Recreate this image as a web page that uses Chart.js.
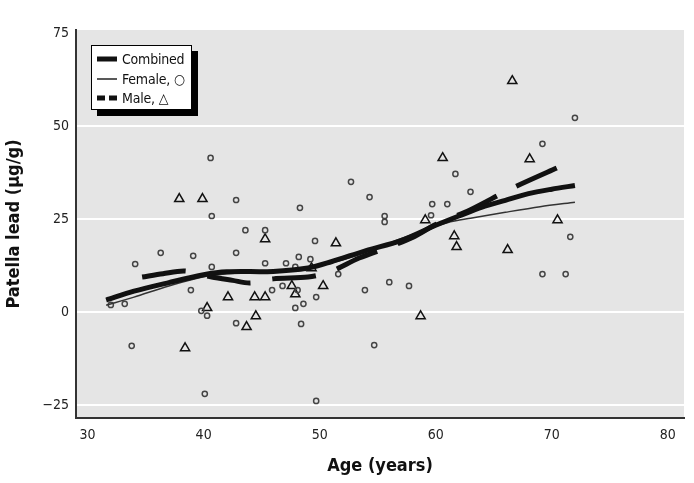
<!DOCTYPE html>
<html>
<head>
<meta charset="utf-8">
<script src="https://cdn.jsdelivr.net/npm/chart.js@4.4.1/dist/chart.umd.min.js"></script>
<style>
 body { margin: 0; background: #fff; }
 #wrap { position: relative; width: 694px; height: 483px; }
 #legend {
  position: absolute; left: 91px; top: 45px; width: 99px; height: 63px;
  background: #fff; border: 1px solid #000; box-shadow: 6px 6px 0 #000;
  font: 14px "DejaVu Sans Condensed", "Liberation Sans Narrow", sans-serif; color: #111;
  letter-spacing: -0.2px;
 }
 #legend .row { position: absolute; left: 5px; height: 20px; display: flex; align-items: center; white-space: nowrap; }
 #legend svg { width: 20px; height: 10px; margin-right: 5px; }
</style>
</head>
<body>
<div id="wrap">
 <canvas id="chart" width="694" height="483"></canvas>
 <div id="legend">
  <div class="row" style="top:3px"><svg><line x1="0" y1="5" x2="20" y2="5" stroke="#111" stroke-width="5"/></svg>Combined</div>
  <div class="row" style="top:23px"><svg><line x1="0" y1="5" x2="20" y2="5" stroke="#222" stroke-width="1.5"/></svg>Female, ○</div>
  <div class="row" style="top:42px"><svg><line x1="0" y1="5" x2="20" y2="5" stroke="#111" stroke-width="5" stroke-dasharray="8,4"/></svg>Male, △</div>
 </div>
</div>
<script>
// measured points (age in years, patella lead in ug/g)
const femaleAge = [32.0, 33.2, 34.1, 33.8, 36.3, 38.9, 39.1, 39.8, 40.3, 40.1, 40.6, 40.7, 40.7, 42.8, 42.8, 42.8,
 43.6, 45.3, 45.3, 45.9, 46.8, 47.1, 47.9, 47.9, 48.1, 48.2, 48.3, 48.4, 48.6, 49.2, 49.6, 49.7, 49.7,
 51.6, 52.7, 53.9, 54.3, 54.7, 55.6, 55.6, 56.0, 57.7, 59.6, 59.7, 61.0, 61.7, 63.0, 69.2, 69.2, 71.2, 71.6, 72.0];
const femaleLead = [1.9, 2.2, 12.9, -9.1, 15.9, 5.9, 15.1, 0.3, -1.0, -22.0, 41.4, 25.8, 12.1, 30.1, 15.9, -3.0,
 22.0, 22.0, 13.1, 5.9, 7.0, 13.1, 12.1, 1.1, 5.9, 14.8, 28.0, -3.2, 2.2, 14.2, 19.1, 4.0, -23.9,
 10.2, 35.0, 5.9, 30.9, -8.9, 25.8, 24.2, 8.0, 7.0, 26.0, 29.0, 29.0, 37.1, 32.3, 45.2, 10.2, 10.2, 20.2, 52.2];

const maleAge = [37.9, 38.4, 39.9, 40.3, 42.1, 43.7, 44.4, 44.5, 45.3, 45.3, 47.6, 47.9, 49.3, 50.3, 51.4,
 58.7, 59.1, 60.6, 61.6, 61.8, 66.2, 66.6, 68.1, 70.5];
const maleLead = [30.4, -9.7, 30.4, 1.1, 4.0, -4.0, 4.0, -1.1, 4.0, 19.6, 7.0, 4.8, 11.8, 7.0, 18.5,
 -1.1, 24.7, 41.4, 20.4, 17.5, 16.7, 62.1, 41.1, 24.7];

// smoothed curves
const combinedFitAge = [31.6, 34, 37, 40, 42, 46, 49, 51, 54, 57, 60, 62, 64, 66, 68, 70, 72];
const combinedFitLead = [3.2, 5.6, 7.9, 10.0, 10.8, 10.9, 11.8, 13.5, 16.5, 19.2, 23.3, 25.8, 28.2, 30.0, 31.8, 33.0, 34.0];
const femaleFitAge = [31.6, 34, 37, 40, 43, 47, 50, 53, 56, 59, 61, 63, 66, 69, 72];
const femaleFitLead = [1.8, 4.0, 7.0, 9.5, 10.5, 11.0, 12.5, 15.0, 18.5, 22.0, 24.0, 25.2, 26.8, 28.3, 29.5];
const maleFitAge = [34.7, 36.5, 38.4, 40.7, 42.5, 44, 46, 49, 50.9, 53.4, 56, 58, 60, 63, 66.6, 71];
const maleFitLead = [9.4, 10.3, 11.0, 9.4, 8.5, 7.8, 8.9, 9.4, 10.8, 14.5, 17.5, 20.0, 23.5, 27.5, 33.3, 39.5];

const xTicks = [30, 40, 50, 60, 70, 80];
const yTicks = [-25, 0, 25, 50, 75];

function toPoints(xs, ys) {
 return xs.map((x, i) => ({ x: x, y: ys[i] }));
}

const fontFamily = '"DejaVu Sans Condensed", "Liberation Sans Narrow", sans-serif';

// grey plot panel
const plotBg = {
 id: 'plotBg',
 beforeDraw(chart) {
  const { ctx, chartArea: a } = chart;
  ctx.save();
  ctx.fillStyle = '#e5e5e5';
  ctx.fillRect(a.left, a.top, a.right - a.left, a.bottom - a.top);
  ctx.restore();
 }
};

new Chart(document.getElementById('chart'), {
 type: 'scatter',
 data: {
  datasets: [
   {
    label: 'Combined', data: toPoints(combinedFitAge, combinedFitLead), showLine: true,
    borderColor: '#111', borderWidth: 5, pointRadius: 0, tension: 0.3
   },
   {
    label: 'Male fit', data: toPoints(maleFitAge, maleFitLead), showLine: true,
    borderColor: '#111', borderWidth: 5, borderDash: [44, 22], pointRadius: 0, tension: 0.3
   },
   {
    label: 'Female fit', data: toPoints(femaleFitAge, femaleFitLead), showLine: true,
    borderColor: '#333', borderWidth: 1.5, pointRadius: 0, tension: 0.3
   },
   {
    label: 'Female', data: toPoints(femaleAge, femaleLead), pointStyle: 'circle',
    pointRadius: 2.6, borderWidth: 1.5, borderColor: '#444', backgroundColor: 'rgba(0,0,0,0)'
   },
   {
    label: 'Male', data: toPoints(maleAge, maleLead), pointStyle: 'triangle',
    pointRadius: 5.3, borderWidth: 1.5, borderColor: '#111', backgroundColor: 'rgba(0,0,0,0)'
   }
  ]
 },
 options: {
  responsive: false,
  animation: false,
  devicePixelRatio: 1,
  layout: { padding: { left: 0, top: 30, right: 10, bottom: 0 } },
  plugins: { legend: { display: false }, tooltip: { enabled: false } },
  scales: {
   x: {
    type: 'linear', min: 29, max: 81.4,
    afterBuildTicks: s => { s.ticks = xTicks.map(v => ({ value: v })); },
    afterFit: s => { s.height = 65; },
    grid: { display: false, drawTicks: false },
    border: { display: true, color: '#333', width: 2 },
    ticks: { padding: 9, color: '#222', font: { family: fontFamily, size: 14 } },
    title: {
     display: true, text: 'Age (years)', color: '#111',
     font: { family: fontFamily, size: 18, weight: 'bold' }, padding: { top: 0, bottom: 6 }
    }
   },
   y: {
    type: 'linear', min: -28.5, max: 75.8,
    afterBuildTicks: s => { s.ticks = yTicks.map(v => ({ value: v })); },
    afterFit: s => { s.width = 76; },
    grid: {
     drawTicks: false, lineWidth: 2,
     color: c => (c.tick && c.tick.value === 75) ? 'rgba(0,0,0,0)' : '#ffffff'
    },
    border: { display: true, color: '#333', width: 2 },
    ticks: {
     padding: 7, color: '#222', font: { family: fontFamily, size: 14 },
     callback: v => v < 0 ? '\u2212' + Math.abs(v) : String(v)
    },
    title: {
     display: true, text: 'Patella lead (\u03bcg/g)', color: '#111',
     font: { family: fontFamily, size: 18, weight: 'bold' }, padding: { top: 4, bottom: 0 }
    }
   }
  }
 },
 plugins: [plotBg]
});
</script>
</body>
</html>
